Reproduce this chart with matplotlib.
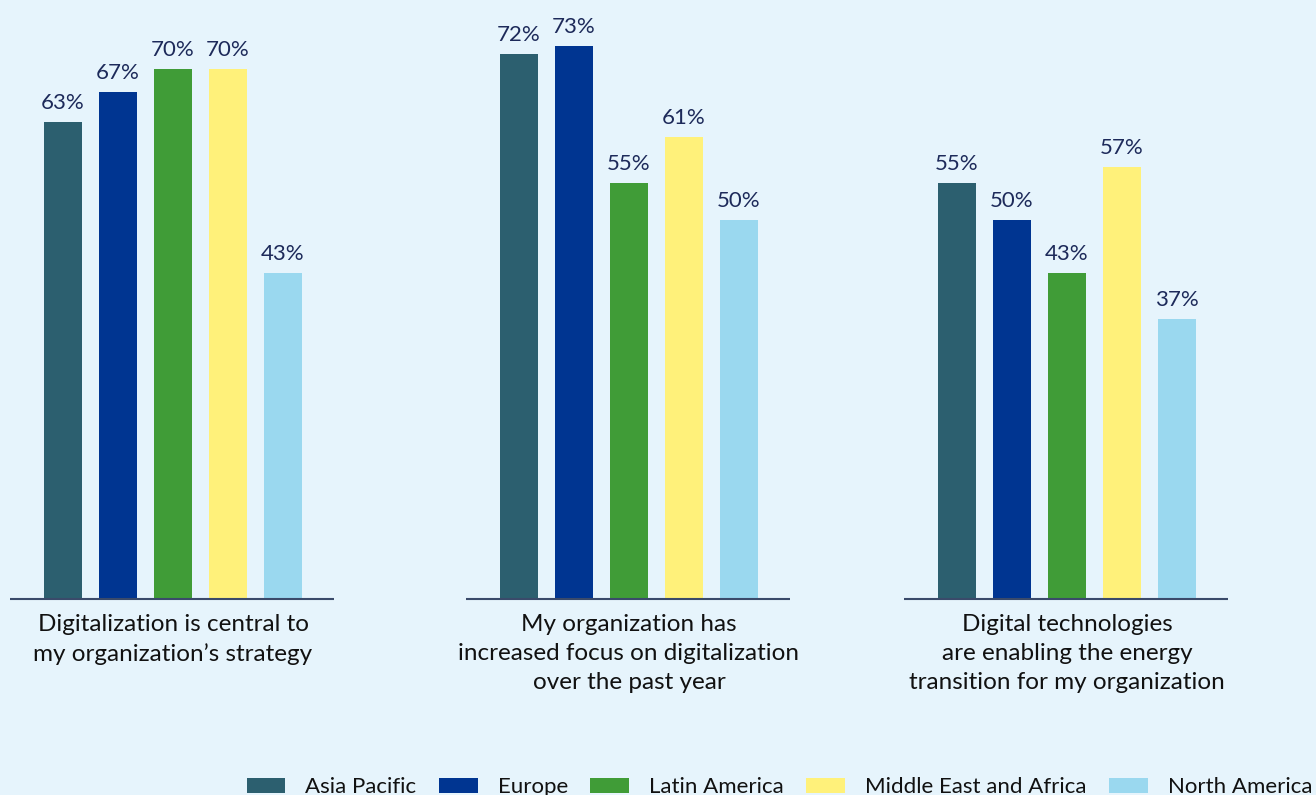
import matplotlib
matplotlib.use("Agg")
import matplotlib.pyplot as plt
from matplotlib.patches import Patch

categories = [
    "Digitalization is central to\nmy organization\u2019s strategy",
    "My organization has\nincreased focus on digitalization\nover the past year",
    "Digital technologies\nare enabling the energy\ntransition for my organization",
]
regions = ["Asia Pacific", "Europe", "Latin America", "Middle East and Africa", "North America"]
values = {
    "Asia Pacific": [63, 72, 55],
    "Europe": [67, 73, 50],
    "Latin America": [70, 55, 43],
    "Middle East and Africa": [70, 61, 57],
    "North America": [43, 50, 37],
}
colors = ["#2C5F6F", "#003591", "#409C37", "#FFF17A", "#9AD8EF"]

BG = "#E6F4FC"
LABEL_COLOR = "#1D2A5A"
plt.rcParams["font.family"] = ["Lato", "DejaVu Sans"]

W, H = 1316, 795
fig = plt.figure(figsize=(W / 100, H / 100), dpi=100, facecolor=BG)
base_px = 599
ax = fig.add_axes([0, (H - base_px) / H, 1, base_px / H])
ax.set_facecolor(BG)
unit = 55.0
ax.set_xlim(0, W / unit)
px_per_pct = 530 / 70
ax.set_ylim(0, base_px / px_per_pct)
ax.axis("off")

group_centers = [173 / unit, 629 / unit, 1067 / unit]
bar_w = 38 / unit
for gi, gc in enumerate(group_centers):
    for ri, reg in enumerate(regions):
        x = gc + (ri - 2)
        v = values[reg][gi]
        ax.bar(x, v, width=bar_w, color=colors[ri], zorder=2)
        ax.text(x, v + 9 / px_per_pct, f"{v}%", ha="center", va="bottom",
                fontsize=16, color=LABEL_COLOR)
    ax.plot([gc - 163 / unit, gc + 161 / unit], [0, 0], color="#3A4A6A",
            lw=1.5, zorder=3, clip_on=False, solid_capstyle="butt")
    fig.text(gc * unit / W, (H - 614) / H, categories[gi], ha="center", va="top",
             fontsize=17.5, color="#111111", linespacing=1.48)

handles = [Patch(facecolor=c, edgecolor="none") for c in colors]
leg = fig.legend(handles, regions, loc="lower right", bbox_to_anchor=(0.997, -0.003),
                 ncol=5, frameon=False, fontsize=16, handlelength=1.75,
                 handleheight=0.7, handletextpad=0.9, columnspacing=1.0,
                 borderaxespad=0, borderpad=0)
for t in leg.get_texts():
    t.set_color("#111111")

fig.savefig("out.png", dpi=100, facecolor=BG)
